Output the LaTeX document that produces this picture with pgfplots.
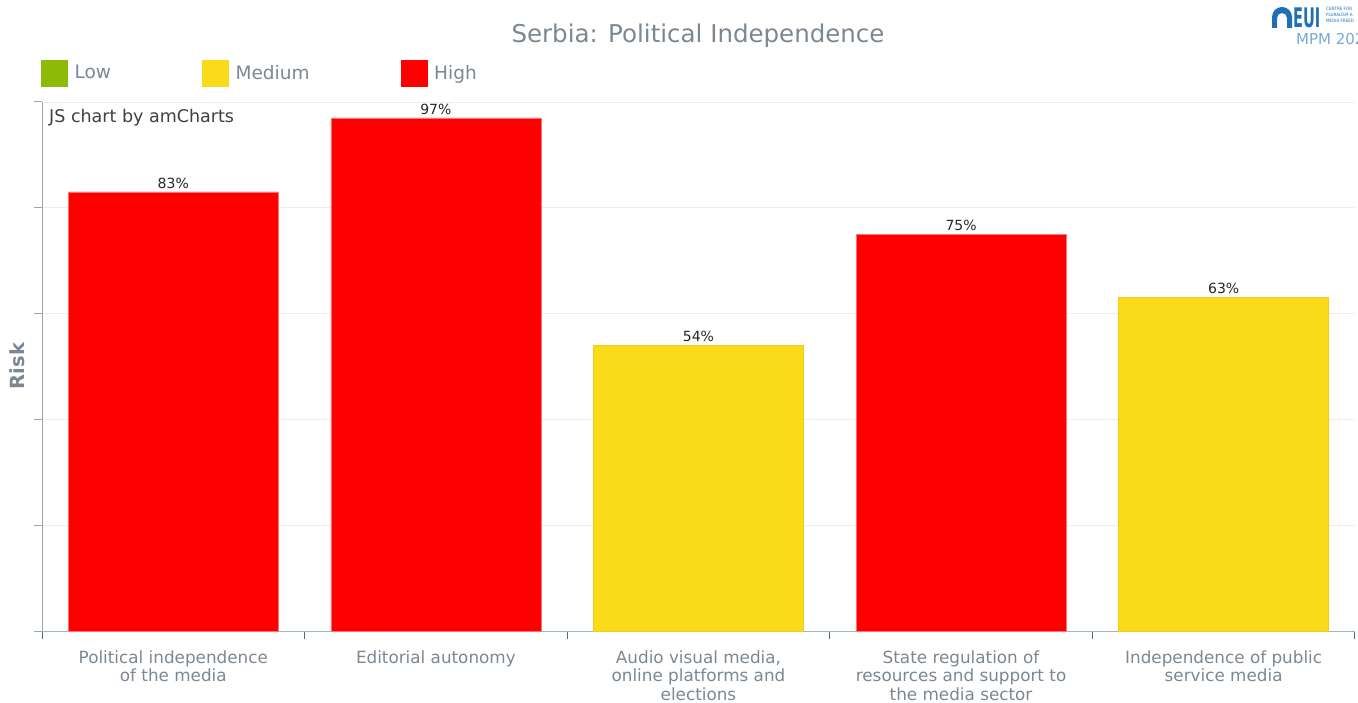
\documentclass[border=0pt]{standalone}
\usepackage{fontspec}
\setmainfont{DejaVu Sans}
\newfontfamily\cond{DejaVu Sans Condensed}
\usepackage{pgfplots}
\pgfplotsset{compat=1.18}
\definecolor{hi}{HTML}{FF0000}
\definecolor{med}{HTML}{FADB19}
\definecolor{low}{HTML}{8DBB05}
\definecolor{txt}{HTML}{7C8791}
\definecolor{axl}{HTML}{9AA5AE}
\definecolor{axb}{HTML}{9DB5C6}
\definecolor{tickb}{HTML}{4A6A85}
\definecolor{eui}{HTML}{1E6FB8}
\begin{document}
\begin{tikzpicture}[x=1pt,y=1pt]
\useasboundingbox (0,0) rectangle (1358,702);
\begin{axis}[
  at={(42pt,71pt)}, anchor=south west,
  scale only axis, width=1313pt, height=529pt,
  xmin=-0.5, xmax=4.5, ymin=0, ymax=100,
  ybar, bar width=0.8, bar shift=0pt,
  axis x line*=bottom, axis y line*=left,
  x axis line style={draw=axb, line width=1pt},
  y axis line style={draw=axl, line width=1pt},
  tick align=outside, major tick length=8pt,
  ytick={0,20,40,60,80,100}, yticklabels={},
  ytick style={draw=axl, line width=1pt},
  ymajorgrids, grid style={draw=black!7, line width=0.8pt},
  xtick={-0.5,0.5,1.5,2.5,3.5,4.5}, xticklabels={},
  xtick style={draw=tickb, line width=1pt},
  extra x ticks={0,1,2,3,4},
  extra x tick labels={{Political independence\\of the media}, {Editorial autonomy}, {Audio visual media,\\online platforms and\\elections}, {State regulation of\\resources and support to\\the media sector}, {Independence of public\\service media}},
  extra x tick style={major tick length=0pt, grid=none,
    tick label style={align=center, anchor=north, yshift=-16pt, text=txt,
      font=\fontsize{16.8}{18.5}\selectfont}},
  /pgf/number format/assume math mode=true,
  nodes near coords={\pgfmathprintnumber{\pgfplotspointmeta}\%},
  nodes near coords style={font=\fontsize{14}{16}\selectfont, text=black!85},
  legend columns=-1,
  legend style={at={(rel axis cs:0,1)}, anchor=west, yshift=29pt, xshift=-4pt,
    draw=none, fill=none, font=\fontsize{18.5}{20}\selectfont, text=txt,
    /tikz/every even column/.append style={column sep=89pt}},
]
\addlegendimage{fill=low, draw=low, legend image code/.code={\fill[low] (0pt,-13pt) rectangle (26pt,13pt); \path (31pt,0pt);}}
\addlegendentry{Low}
\addplot[fill=med, draw=med!80!orange, line width=0.6pt,
  legend image code/.code={\fill[med] (0pt,-13pt) rectangle (26pt,13pt); \path (31pt,0pt);}]
  coordinates {(2,54) (4,63)};
\addlegendentry{Medium}
\addplot[fill=hi, draw=hi!55!white, line width=0.6pt,
  legend image code/.code={\fill[hi] (0pt,-13pt) rectangle (26pt,13pt); \path (31pt,0pt);}]
  coordinates {(0,83) (1,97) (3,75)};
\addlegendentry{High}
\end{axis}
\node[text=txt, font=\fontsize{24.5}{28}\selectfont] at (698,666) {Serbia: Political Independence};
\node[anchor=west, text=black!75, font=\fontsize{17.5}{19}\selectfont, inner sep=0pt] at (49,584) {JS chart by amCharts};
\node[rotate=90, text=txt, font=\bfseries\fontsize{19.5}{20}\selectfont] at (17,336) {Risk};
% EUI logo approximation
\fill[eui] (1272,674) -- (1272,685) arc[start angle=180, end angle=0, radius=10] -- (1292,674) -- (1287,674) -- (1287,684) arc[start angle=0, end angle=180, radius=5] -- (1277,674) -- cycle;
\node[anchor=south west, inner sep=0pt, text=eui, xscale=0.6, font=\cond\bfseries\fontsize{27}{27}\selectfont] at (1293,674) {EUI};
\node[anchor=north west, inner sep=0pt, text=eui, align=left, font=\cond\fontsize{4.5}{6.2}\selectfont] at (1326,695) {CENTRE FOR\\PLURALISM A\\MEDIA FREED};
\node[anchor=west, inner sep=0pt, text=eui!60, font=\fontsize{15}{15}\selectfont] at (1296,663) {MPM 202};
\end{tikzpicture}
\end{document}
